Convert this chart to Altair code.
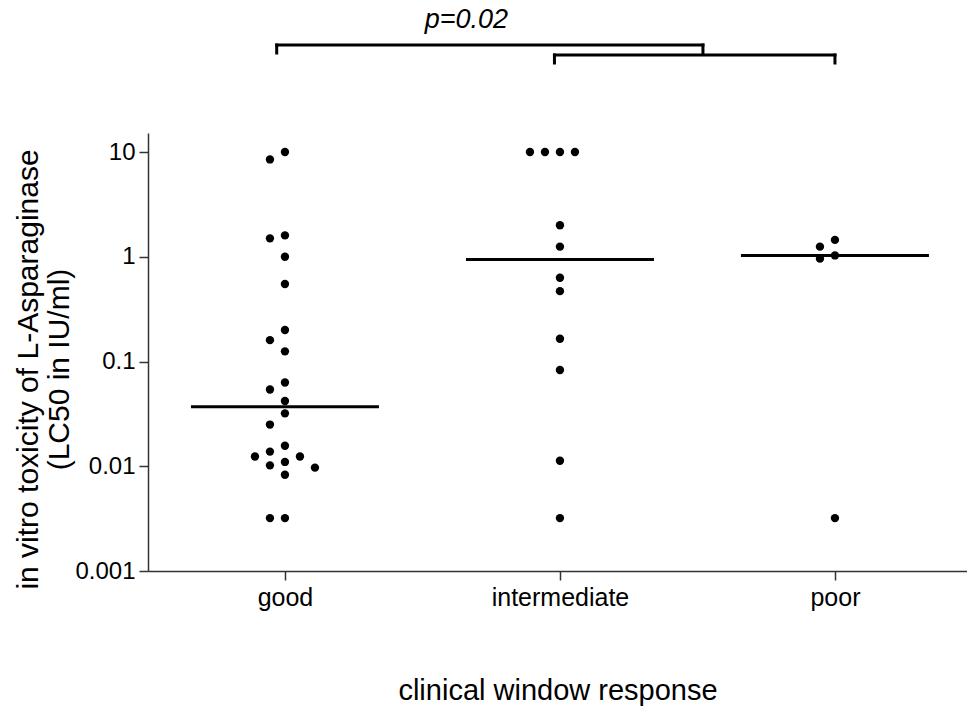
import altair as alt
import numpy as np
import pandas as pd

# ---- data ----
categories = ["good", "intermediate", "poor"]
good = [10, 8.5, 1.6, 1.5, 1.0, 0.55, 0.2, 0.16, 0.125, 0.063, 0.054, 0.042,
        0.032, 0.025, 0.0157, 0.0138, 0.0124, 0.0124, 0.011, 0.0102, 0.0097,
        0.0083, 0.0032, 0.0032]
intermediate = [10, 10, 10, 10, 2.0, 1.25, 0.63, 0.47, 0.165, 0.083, 0.0113, 0.0032]
poor = [1.45, 1.25, 1.03, 0.96, 0.0032]
y_ticks = [0.001, 0.01, 0.1, 1, 10]
p_label = "p=0.02"
# comparison brackets (category units): good vs (intermediate+poor)
bracket_outer = [-0.03, 1.52]
bracket_inner = [0.98, 2.0]

groups = [good, intermediate, poor]

# ---- layout ----
W, H = 819, 438
Y_MIN, Y_MAX = 0.001, 15.2
STEP_PX = 275.0
X_MIN = -0.498
X_MAX = X_MIN + W / STEP_PX
px_per_decade = H / np.log10(Y_MAX / Y_MIN)
FONT = "Liberation Sans, Arial, sans-serif"

# ---- simple beeswarm placement ----
slot_px, min_gap = 15.0, 12.0
slot_order = [0, -1, 1, -2, 2, -3, 3, -4, 4]
rows = []
med_rows = []
for i, (cat, vals) in enumerate(zip(categories, groups)):
    placed = []
    for v in sorted(vals, reverse=True):
        ypx = np.log10(v) * px_per_decade
        chosen = slot_order[-1]
        for s in slot_order:
            if all(not (ps == s and abs(py - ypx) < min_gap) for ps, py in placed):
                chosen = s
                break
        placed.append((chosen, ypx))
        rows.append({"group": cat, "x": i + chosen * slot_px / STEP_PX, "value": v})
    half = 94.0 / STEP_PX
    med_rows.append({"x": i - half, "x2": i + half, "median": float(np.median(vals))})

df = pd.DataFrame(rows)
dmed = pd.DataFrame(med_rows)


def yval(px_above_top):
    # value on the log scale that sits px_above_top pixels above the plot top
    return float(Y_MAX * 10 ** (px_above_top / px_per_decade))


xscale = alt.Scale(domain=[X_MIN, X_MAX], nice=False, zero=False)
yscale = alt.Scale(type="log", domain=[Y_MIN, Y_MAX], nice=False)

x_axis = alt.Axis(
    values=[0, 1, 2],
    labelExpr="datum.value == 0 ? 'good' : (datum.value == 1 ? 'intermediate' : 'poor')",
    grid=False, domainColor="#333333", domainWidth=1.5, tickColor="#333333",
    tickWidth=1.5, tickSize=9, labelFontSize=25, labelPadding=5, labelColor="black",
    labelFont=FONT, title="clinical window response", titleFontSize=29,
    titleFont=FONT, titleFontWeight="normal", titleColor="black",
    titleBaseline="middle", titleY=119, titleX=W / 2,
)
y_axis = alt.Axis(
    values=y_ticks, format="~g", grid=False, domainColor="#333333", domainWidth=1.5,
    tickColor="#333333", tickWidth=1.5, tickSize=9, labelFontSize=24,
    labelPadding=4, labelColor="black", labelFont=FONT,
    title=["in vitro toxicity of L-Asparaginase", "(LC50 in IU/ml)"],
    titleFontSize=30, titleFont=FONT, titleFontWeight="normal", titleColor="black",
    titleAngle=270, titleAlign="center", titleBaseline="top", titleX=-135,
    titleY=236, titleLineHeight=31,
)

points = alt.Chart(df).mark_circle(size=70, color="black", opacity=1).encode(
    x=alt.X("x:Q", scale=xscale, axis=x_axis),
    y=alt.Y("value:Q", scale=yscale, axis=y_axis),
)

medians = alt.Chart(dmed).mark_rule(color="black", strokeWidth=3).encode(
    x=alt.X("x:Q", scale=xscale),
    x2="x2:Q",
    y=alt.Y("median:Q", scale=yscale),
)

# brackets
b_h = pd.DataFrame([
    {"x": bracket_outer[0], "x2": bracket_outer[1], "y": yval(88)},
    {"x": bracket_inner[0], "x2": bracket_inner[1], "y": yval(78)},
])
b_v = pd.DataFrame([
    {"x": bracket_outer[0], "y": yval(88), "y2": yval(80)},
    {"x": bracket_outer[1], "y": yval(88), "y2": yval(80)},
    {"x": bracket_inner[0], "y": yval(78), "y2": yval(70)},
    {"x": bracket_inner[1], "y": yval(78), "y2": yval(70)},
])
br_h = alt.Chart(b_h).mark_rule(color="black", strokeWidth=3, strokeCap="square").encode(
    x=alt.X("x:Q", scale=xscale), x2="x2:Q", y=alt.Y("y:Q", scale=yscale),
)
br_v = alt.Chart(b_v).mark_rule(color="black", strokeWidth=3, strokeCap="square").encode(
    x=alt.X("x:Q", scale=xscale), y=alt.Y("y:Q", scale=yscale), y2="y2:Q",
)
ptxt = alt.Chart(pd.DataFrame([{"x": 0.66, "y": yval(113), "t": p_label}])).mark_text(
    fontSize=27, fontStyle="italic", font=FONT, color="black", baseline="middle"
).encode(x=alt.X("x:Q", scale=xscale), y=alt.Y("y:Q", scale=yscale), text="t:N")

chart = alt.layer(points, medians, br_h, br_v, ptxt).properties(
    width=W, height=H,
    background="white",
    autosize=alt.AutoSizeParams(type="none"),
    padding={"left": 148, "top": 133, "right": 0, "bottom": 135},
).configure_view(strokeWidth=0, stroke="transparent")

chart.save("out.html", embed_options={"renderer": "svg", "actions": False})
